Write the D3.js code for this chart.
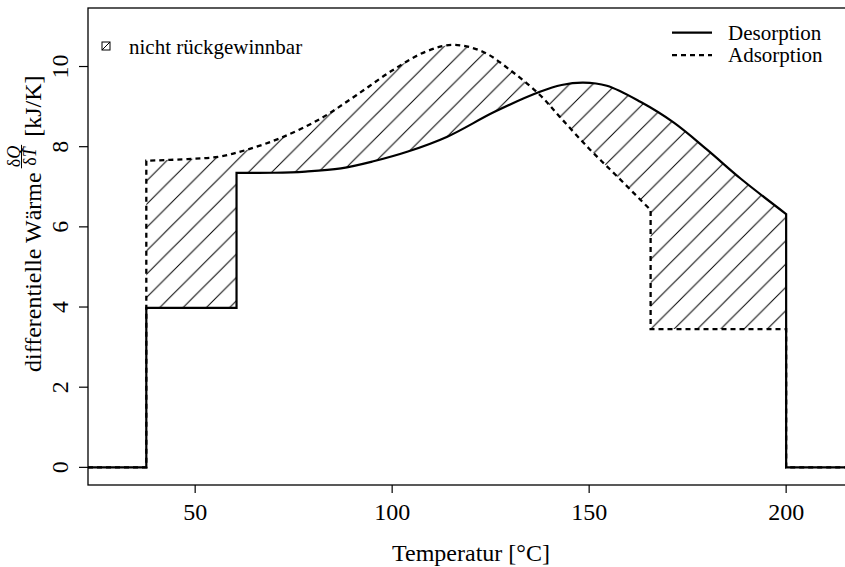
<!DOCTYPE html>
<html>
<head>
<meta charset="utf-8">
<script src="https://cdn.jsdelivr.net/npm/d3@7"></script>
<style>
  body { margin: 0; background: #fff; }
  svg { display: block; }
  text { font-family: "Liberation Serif", "DejaVu Serif", serif; }
</style>
</head>
<body>
<svg id="chart" width="845" height="567" font-family="Liberation Serif, serif"></svg>
<script>
// values
const desTemp = [22.8, 37.6, 37.6, 60.5, 60.5, 70, 78, 87, 95, 104, 114, 126, 137.5, 143, 148.5, 154.5, 163, 171.5, 180, 188.5, 200, 200, 215.7]
const desValue = [0, 0, 3.98, 3.98, 7.35, 7.35, 7.38, 7.46, 7.63, 7.88, 8.25, 8.87, 9.37, 9.54, 9.6, 9.52, 9.12, 8.6, 7.92, 7.2, 6.32, 0, 0]

const adsTemp = [22.8, 37.6, 37.6, 48, 56, 63, 72, 82, 91, 100, 108.5, 115.5, 123, 130.5, 137.5, 142.5, 150, 157, 165.6, 165.6, 200, 200, 215.7]
const adsValue = [0, 0, 7.65, 7.69, 7.75, 7.92, 8.23, 8.71, 9.29, 9.9, 10.37, 10.54, 10.37, 9.87, 9.29, 8.75, 7.95, 7.27, 6.42, 3.45, 3.45, 0, 0]

const xTicks = [50, 100, 150, 200]
const yTicks = [0, 2, 4, 6, 8, 10]
const xDomain = [22.8, 215.7]
const yDomain = [-0.44, 11.46]

const seriesNames = ['Desorption', 'Adsorption']
const hatchLabel = 'nicht rückgewinnbar'

let svg = d3.select('#chart')
let pLeft = 88, pTop = 8, pRight = 848, pBottom = 485

let x = d3.scaleLinear().domain(xDomain).range([pLeft, pRight])
let y = d3.scaleLinear().domain(yDomain).range([pBottom, pTop])

let des = desTemp.map((t, i) => [t, desValue[i]])
let ads = adsTemp.map((t, i) => [t, adsValue[i]])

// smooth pieces, joined by vertical steps where the temperature repeats
let smooth = d3.line()
  .x(d => x(d[0]))
  .y(d => y(d[1]))
  .curve(d3.curveCatmullRom.alpha(0.5))

function stepPath(pts) {
  let runs = [[pts[0]]]
  for (let i = 1; i < pts.length; i++) {
    if (pts[i][0] === pts[i - 1][0]) runs.push([])
    runs[runs.length - 1].push(pts[i])
  }
  return runs.map((r, i) => {
    let p = smooth(r)
    return i ? 'L' + p.slice(1) : p
  }).join('')
}

// hatch pattern
let step = 23.3
let pat = svg.append('defs').append('pattern')
  .attr('id', 'hatch')
  .attr('patternUnits', 'userSpaceOnUse')
  .attr('x', 1.3)
  .attr('width', step)
  .attr('height', step)
pat.append('path')
  .attr('d', `M0,${step}L${step},0M-2,2L2,-2M${step - 2},${step + 2}L${step + 2},${step - 2}`)
  .attr('stroke', '#000')
  .attr('stroke-width', 1)

// region between the curves: evenodd of both closed outlines (both start and end at 0)
svg.append('path')
  .attr('d', stepPath(ads) + 'Z' + stepPath(des) + 'Z')
  .attr('fill', 'url(#hatch)')
  .attr('fill-rule', 'evenodd')

svg.append('path')
  .attr('d', stepPath(des))
  .attr('fill', 'none')
  .attr('stroke', '#000')
  .attr('stroke-width', 2.2)

svg.append('path')
  .attr('d', stepPath(ads))
  .attr('fill', 'none')
  .attr('stroke', '#000')
  .attr('stroke-width', 2.3)
  .attr('stroke-dasharray', '5,4')

// box
svg.append('rect')
  .attr('x', pLeft)
  .attr('y', pTop)
  .attr('width', pRight - pLeft)
  .attr('height', pBottom - pTop)
  .attr('fill', 'none')
  .attr('stroke', '#000')
  .attr('stroke-width', 1.3)

// x axis
let xAxis = svg.append('g')
xAxis.selectAll('line')
  .data(xTicks)
  .enter()
  .append('line')
  .attr('x1', d => x(d)).attr('x2', d => x(d))
  .attr('y1', pBottom).attr('y2', pBottom + 8)
  .attr('stroke', '#000')
  .attr('stroke-width', 1.2)
xAxis.selectAll('text')
  .data(xTicks)
  .enter()
  .append('text')
  .attr('x', d => x(d))
  .attr('y', 520)
  .attr('text-anchor', 'middle')
  .attr('font-size', 24)
  .text(d => d)

svg.append('text')
  .attr('x', (pLeft + pRight) / 2 + 3)
  .attr('y', 561)
  .attr('text-anchor', 'middle')
  .attr('font-size', 24)
  .text('Temperatur [°C]')

// y axis
let yAxis = svg.append('g')
yAxis.selectAll('line')
  .data(yTicks)
  .enter()
  .append('line')
  .attr('x1', pLeft - 9).attr('x2', pLeft)
  .attr('y1', d => y(d)).attr('y2', d => y(d))
  .attr('stroke', '#000')
  .attr('stroke-width', 1.2)
yAxis.selectAll('text')
  .data(yTicks)
  .enter()
  .append('text')
  .attr('transform', d => `translate(68,${y(d)}) rotate(-90)`)
  .attr('text-anchor', 'middle')
  .attr('font-size', 24)
  .text(d => d)

// y title with fraction dQ/dT
let yt = svg.append('g').attr('transform', 'translate(41,372) rotate(-90)')
let t1 = yt.append('text')
  .attr('font-size', 24)
  .text('differentielle Wärme')
let w1 = t1.node().getComputedTextLength()

let fx = w1 + 4
let num = yt.append('text')
  .attr('y', -21)
  .attr('font-size', 18)
num.append('tspan').text('δ')
num.append('tspan').attr('font-style', 'italic').text('Q')
let den = yt.append('text')
  .attr('y', -5)
  .attr('font-size', 18)
den.append('tspan').text('δ')
den.append('tspan').attr('font-style', 'italic').text('T')
let wn = num.node().getComputedTextLength()
let wd = den.node().getComputedTextLength()
let fw = Math.max(wn, wd) + 2
num.attr('x', fx + (fw - wn) / 2)
den.attr('x', fx + (fw - wd) / 2)
yt.append('line')
  .attr('x1', fx).attr('x2', fx + fw)
  .attr('y1', -19.5).attr('y2', -19.5)
  .attr('stroke', '#000')
  .attr('stroke-width', 1)

yt.append('text')
  .attr('x', fx + fw + 8)
  .attr('font-size', 24)
  .text('[kJ/K]')

// legend top right
let leg = svg.append('g')
leg.selectAll('line')
  .data(seriesNames)
  .enter()
  .append('line')
  .attr('x1', 672).attr('x2', 712)
  .attr('y1', (d, i) => 32.7 + i * 22.5)
  .attr('y2', (d, i) => 32.7 + i * 22.5)
  .attr('stroke', '#000')
  .attr('stroke-width', 2.2)
  .attr('stroke-dasharray', (d, i) => i ? '5,4' : null)
leg.selectAll('text')
  .data(seriesNames)
  .enter()
  .append('text')
  .attr('x', 728)
  .attr('y', (d, i) => 39.5 + i * 22.5)
  .attr('font-size', 21)
  .text(d => d)

// legend top left
svg.append('rect')
  .attr('x', 102).attr('y', 42)
  .attr('width', 8).attr('height', 8)
  .attr('fill', 'none')
  .attr('stroke', '#000')
  .attr('stroke-width', 1)
svg.append('line')
  .attr('x1', 102).attr('y1', 50)
  .attr('x2', 110).attr('y2', 42)
  .attr('stroke', '#000')
  .attr('stroke-width', 1)
svg.append('text')
  .attr('x', 129)
  .attr('y', 53.5)
  .attr('font-size', 21)
  .text(hatchLabel)
</script>
</body>
</html>
